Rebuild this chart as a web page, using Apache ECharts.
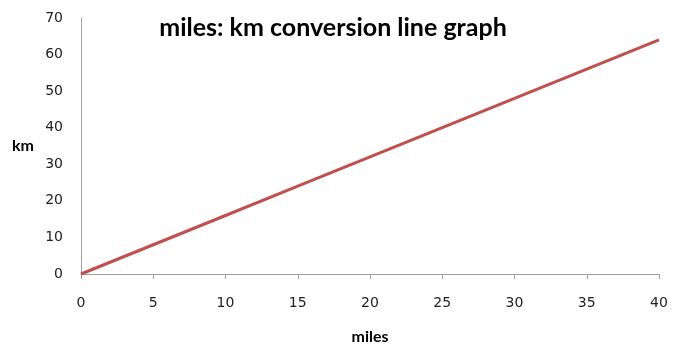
<!DOCTYPE html>
<html><head><meta charset="utf-8">
<script src="https://cdn.jsdelivr.net/npm/echarts@6/dist/echarts.min.js"></script>
<style>html,body{margin:0;padding:0;background:#fff}#c{width:675px;height:345px}</style>
</head><body><div id="c"></div>
<script>
const miles = [0, 5, 10, 15, 20, 25, 30, 35, 40];
const km = [0, 8, 16, 24, 32, 40, 48, 56, 64];
const titleText = 'miles: km conversion line graph';
const xName = 'miles';
const yName = 'km';

const chart = echarts.init(document.getElementById('c'), null, {renderer: 'canvas'});
const axisFont = {fontFamily: 'DejaVu Sans', fontSize: 14, color: '#222'};
chart.setOption({
  animation: false,
  title: {text: titleText, left: 328, top: 10, textAlign: 'center',
    textStyle: {fontFamily: 'Lato', fontWeight: 'bold', fontSize: 25, color: '#000'}},
  grid: {left: 81, right: 16, top: 18, bottom: 71, outerBoundsMode: 'none', containLabel: false},
  xAxis: {type: 'value', min: 0, max: 40, interval: 5,
    name: xName, nameLocation: 'middle', nameGap: 55,
    nameTextStyle: {fontFamily: 'Lato', fontWeight: 'bold', fontSize: 16, color: '#000'},
    axisLine: {lineStyle: {color: '#a0a0a0', width: 1}},
    axisTick: {show: true, length: 5, inside: false, lineStyle: {color: '#a0a0a0'}},
    axisLabel: Object.assign({margin: 22}, axisFont),
    splitLine: {show: false}},
  yAxis: {type: 'value', min: 0, max: 70, interval: 10,
    name: yName, nameLocation: 'middle', nameGap: 47, nameRotate: 0,
    nameTextStyle: {fontFamily: 'Lato', fontWeight: 'bold', fontSize: 16, color: '#000'},
    axisLine: {show: true, lineStyle: {color: '#a0a0a0', width: 1}},
    axisTick: {show: false},
    axisLabel: Object.assign({margin: 18}, axisFont),
    splitLine: {show: false}},
  series: [{type: 'line', data: miles.map((m, i) => [m, km[i]]),
    showSymbol: false, lineStyle: {color: '#c0504d', width: 3}}]
});
</script></body></html>
